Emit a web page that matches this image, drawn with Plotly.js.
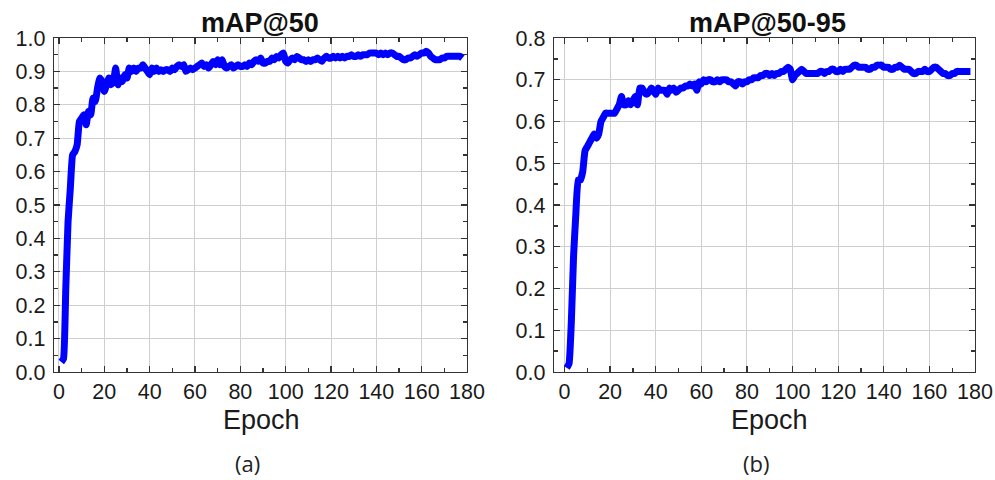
<!DOCTYPE html>
<html>
<head>
<meta charset="utf-8">
<script src="https://cdn.plot.ly/plotly-3.0.1.min.js"></script>
<style>html,body{margin:0;padding:0;background:#fff;}#chart{width:995px;height:480px;}</style>
</head>
<body>
<div id="chart"></div>
<script>
const epochs = Array.from({length: 178}, (_, i) => i + 1);

const map50 = [
0.03,0.04,0.25,0.45,0.55,0.65,0.66,0.68,0.75,0.76,
0.77,0.74,0.78,0.77,0.82,0.81,0.85,0.88,0.87,0.84,
0.86,0.88,0.86,0.87,0.91,0.86,0.88,0.87,0.89,0.88,
0.91,0.90,0.91,0.90,0.91,0.91,0.92,0.91,0.90,0.89,
0.91,0.90,0.91,0.90,0.905,0.90,0.905,0.905,0.90,0.91,
0.905,0.915,0.92,0.915,0.92,0.90,0.905,0.91,0.905,0.91,
0.915,0.92,0.925,0.915,0.92,0.91,0.92,0.93,0.92,0.935,
0.92,0.935,0.915,0.91,0.915,0.92,0.91,0.915,0.92,0.915,
0.915,0.92,0.915,0.925,0.92,0.93,0.935,0.93,0.94,0.925,
0.925,0.93,0.93,0.94,0.935,0.945,0.94,0.95,0.955,0.93,
0.925,0.935,0.94,0.935,0.945,0.94,0.935,0.935,0.93,0.935,
0.93,0.935,0.935,0.94,0.935,0.93,0.94,0.945,0.94,0.94,
0.945,0.94,0.945,0.94,0.945,0.94,0.945,0.945,0.95,0.945,
0.945,0.95,0.945,0.95,0.95,0.95,0.955,0.955,0.955,0.955,
0.95,0.955,0.95,0.955,0.95,0.955,0.955,0.95,0.945,0.945,
0.94,0.935,0.935,0.94,0.94,0.945,0.95,0.945,0.95,0.955,
0.955,0.96,0.955,0.945,0.94,0.935,0.935,0.935,0.94,0.94,
0.945,0.945,0.945,0.945,0.945,0.945,0.945,0.94
];

const map5095 = [
0.01,0.02,0.12,0.28,0.38,0.46,0.46,0.48,0.53,0.54,
0.55,0.56,0.57,0.56,0.57,0.60,0.61,0.62,0.62,0.62,
0.62,0.62,0.63,0.64,0.66,0.64,0.64,0.65,0.64,0.65,
0.66,0.64,0.68,0.68,0.67,0.665,0.67,0.68,0.675,0.665,
0.68,0.675,0.675,0.675,0.665,0.68,0.675,0.68,0.67,0.675,
0.68,0.68,0.685,0.685,0.69,0.685,0.69,0.675,0.695,0.69,
0.70,0.695,0.70,0.70,0.695,0.695,0.70,0.695,0.70,0.70,
0.70,0.695,0.695,0.69,0.685,0.695,0.695,0.69,0.695,0.695,
0.70,0.70,0.705,0.705,0.705,0.71,0.71,0.715,0.715,0.71,
0.715,0.71,0.715,0.715,0.72,0.72,0.725,0.73,0.725,0.70,
0.71,0.715,0.72,0.725,0.72,0.715,0.715,0.715,0.715,0.715,
0.715,0.72,0.72,0.715,0.72,0.72,0.725,0.725,0.72,0.72,
0.725,0.72,0.725,0.725,0.725,0.73,0.735,0.735,0.73,0.73,
0.73,0.73,0.725,0.725,0.73,0.73,0.735,0.735,0.735,0.73,
0.73,0.73,0.725,0.725,0.73,0.73,0.735,0.73,0.725,0.725,
0.725,0.72,0.715,0.715,0.72,0.72,0.72,0.725,0.72,0.72,
0.725,0.73,0.73,0.725,0.72,0.715,0.715,0.71,0.71,0.715,
0.715,0.72,0.72,0.72,0.72,0.72,0.72,0.72
];

const panelTitles = ['mAP@50', 'mAP@50-95'];
const panelLabels = ['(a)', '(b)'];
const xTitle = 'Epoch';

const W = 995, H = 480;
const px = v => v / W;
const py = v => 1 - v / H;

const lineStyle = {color: '#0000ff', width: 7, shape: 'spline', smoothing: 0.4};
const traces = [
  {x: epochs, y: map50, type: 'scatter', mode: 'lines', line: lineStyle, xaxis: 'x', yaxis: 'y', hoverinfo: 'skip'},
  {x: epochs, y: map5095, type: 'scatter', mode: 'lines', line: lineStyle, xaxis: 'x2', yaxis: 'y2', hoverinfo: 'skip'}
];

const tickFont = {family: 'Liberation Sans, Arial, sans-serif', size: 21.5, color: '#1a1a1a'};
function xAx(domain, lo) {
  return {
    domain: domain, range: [lo, 180], tick0: 0, dtick: 20,
    showline: true, linecolor: '#333', linewidth: 1.3, mirror: 'ticks',
    ticks: 'inside', ticklen: 6, tickcolor: '#333', tickwidth: 1.3,
    minor: {dtick: 10, ticks: 'inside', ticklen: 4, tickcolor: '#333', showgrid: false},
    showgrid: true, gridcolor: '#cfcfcf', gridwidth: 1,
    zeroline: false, tickfont: tickFont, ticklabelstandoff: 0
  };
}
function yAx(domain, hi, anchor) {
  return {
    domain: domain, range: [0, hi], tick0: 0, dtick: 0.1, tickformat: '.1f',
    anchor: anchor,
    showline: true, linecolor: '#333', linewidth: 1.3, mirror: 'ticks',
    ticks: 'inside', ticklen: 6, tickcolor: '#333', tickwidth: 1.3,
    minor: {dtick: 0.05, ticks: 'inside', ticklen: 4, tickcolor: '#333', showgrid: false},
    showgrid: true, gridcolor: '#cfcfcf', gridwidth: 1,
    zeroline: false, tickfont: tickFont, ticklabelstandoff: 3
  };
}

const yDom = [py(372), py(38)];
const titleFont = {family: 'Liberation Sans, Arial, sans-serif', size: 27, color: '#111'};
const epochFont = {family: 'Liberation Sans, Arial, sans-serif', size: 27, color: '#1a1a1a'};
const labelFont = {family: 'Open Sans, sans-serif', size: 22, color: '#222'};
const layout = {
  width: W, height: H,
  margin: {l: 0, r: 0, t: 0, b: 0},
  paper_bgcolor: '#fff', plot_bgcolor: '#fff',
  showlegend: false,
  xaxis: xAx([px(54), px(467)], -2.2),
  yaxis: yAx(yDom, 1.0, 'x'),
  xaxis2: Object.assign(xAx([px(554), px(975)], -4.6), {anchor: 'y2'}),
  yaxis2: yAx(yDom, 0.8, 'x2'),
  annotations: [
    {text: '<b>' + panelTitles[0] + '</b>', x: px(260), y: py(23), xref: 'paper', yref: 'paper', showarrow: false, xanchor: 'center', yanchor: 'middle', font: titleFont},
    {text: '<b>' + panelTitles[1] + '</b>', x: px(767), y: py(23), xref: 'paper', yref: 'paper', showarrow: false, xanchor: 'center', yanchor: 'middle', font: titleFont},
    {text: xTitle, x: px(261), y: py(420), xref: 'paper', yref: 'paper', showarrow: false, xanchor: 'center', yanchor: 'middle', font: epochFont},
    {text: xTitle, x: px(769), y: py(420), xref: 'paper', yref: 'paper', showarrow: false, xanchor: 'center', yanchor: 'middle', font: epochFont},
    {text: panelLabels[0], x: px(247), y: py(463), xref: 'paper', yref: 'paper', showarrow: false, xanchor: 'center', yanchor: 'middle', font: labelFont},
    {text: panelLabels[1], x: px(756), y: py(463), xref: 'paper', yref: 'paper', showarrow: false, xanchor: 'center', yanchor: 'middle', font: labelFont}
  ]
};

Plotly.newPlot('chart', traces, layout, {staticPlot: true, displayModeBar: false});
</script>
</body>
</html>
